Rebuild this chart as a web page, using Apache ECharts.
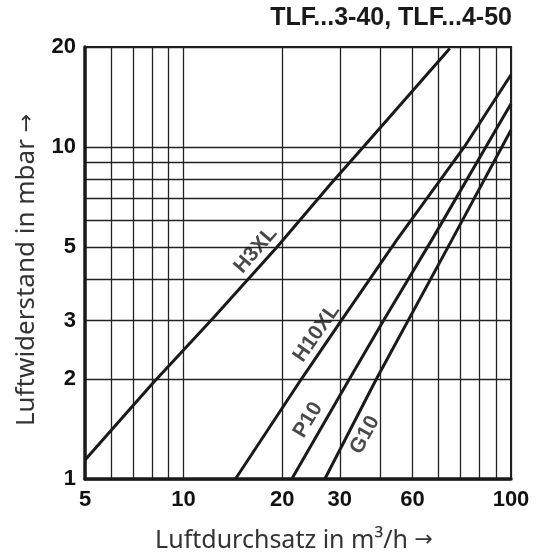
<!DOCTYPE html>
<html><head><meta charset="utf-8">
<script src="https://cdn.jsdelivr.net/npm/echarts@6/dist/echarts.min.js"></script>
<style>html,body{margin:0;padding:0;background:#fff}#c{width:537px;height:559px}</style>
</head><body><div id="c"></div>
<script>
const titleText = 'TLF...3-40, TLF...4-50';
const xName = 'Luftdurchsatz in m³/h {a|→}';
const yName = 'Luftwiderstand in mbar {a|→}';
const xGridValues = [5,6,7,8,9,10,20,30,40,50,60,70,80,90,100];
const yGridValues = [1,2,3,4,5,6,7,8,9,10,20];
const xTickValues = [5,10,20,30,50,100];
const xTickLabels = ['5','10','20','30','60','100'];
const yTickValues = [1,2,3,5,10,20];
const yTickLabels = ['1','2','3','5','10','20'];
const seriesNames = ['H3XL','H10XL','P10','G10'];
const h3xl = [[5,1.14],[8,1.93],[12.3,3.05],[19.3,5],[28,7.69],[35.4,10],[65,19.8]];
const h10xl = [[14.4,1],[22.9,2],[30.3,3],[44.8,5.25],[72,10],[100,16.5]];
const p10 = [[21.4,1],[32.1,2],[40.8,3],[57.3,5.25],[100,13.5]];
const g10 = [[27,1],[38.8,2],[66,5.25],[100,11.25]];
const labelAnchors = [[16.6,4.89],[25.5,2.75],[24.0,1.505],[35.8,1.357]];

const seriesData = [h3xl, h10xl, p10, g10];
const labelRot = [49, 55, 59, 61.5];
const sans = "'Liberation Sans',Arial,Helvetica,sans-serif";

function pick(values, labels) {
  return function (v) {
    let best = 0, bd = Infinity;
    values.forEach((t, i) => { const d = Math.abs(Math.log(v) - Math.log(t)); if (d < bd) { bd = d; best = i; } });
    return labels[best];
  };
}

const chart = echarts.init(document.getElementById('c'), null, {renderer: 'canvas'});
const series = seriesData.map((d, i) => ({
  name: seriesNames[i],
  type: 'line',
  data: d,
  showSymbol: false,
  symbol: 'none',
  silent: true,
  clip: true,
  z: 5,
  lineStyle: {color: '#1a1a1a', width: 3}
}));
series.push({
  type: 'scatter',
  symbolSize: 0,
  silent: true,
  z: 6,
  data: labelAnchors.map((p, i) => ({
    value: p,
    label: {
      show: true,
      position: 'inside',
      formatter: seriesNames[i],
      rotate: labelRot[i],
      fontFamily: sans,
      fontWeight: 'bold',
      fontSize: 21,
      color: '#1a1a1a',
      align: 'center',
      verticalAlign: 'middle'
    }
  }))
});

const arrowStyle = {fontFamily: "'DejaVu Sans',sans-serif", color: '#333', fontSize: 22};

chart.setOption({
  animation: false,
  backgroundColor: '#fff',
  title: {
    text: titleText,
    right: 20,
    top: 1,
    textStyle: {fontFamily: sans, fontWeight: 'bold', fontSize: 25, color: '#1a1a1a'}
  },
  grid: {left: 85, right: 26, top: 47, bottom: 80, show: true, borderColor: '#1a1a1a', borderWidth: 2, backgroundColor: 'transparent'},
  xAxis: {
    type: 'log', logBase: 10, min: 5, max: 100,
    name: xName, nameLocation: 'middle', nameGap: 49,
    nameTextStyle: {fontFamily: "'Noto Sans',sans-serif", fontSize: 25, color: '#333', padding: [0, 8, 0, 0], rich: {a: arrowStyle}},
    axisLine: {show: true, onZero: false, lineStyle: {color: '#1a1a1a', width: 3.5}},
    axisTick: {show: false, customValues: xGridValues},
    splitLine: {show: true, lineStyle: {color: '#222', width: 1.3}},
    axisLabel: {customValues: xTickValues, formatter: pick(xTickValues, xTickLabels), margin: 10,
      fontFamily: sans, fontWeight: 'bold', fontSize: 22, color: '#111', showMinLabel: true, showMaxLabel: true}
  },
  yAxis: {
    type: 'log', logBase: 10, min: 1, max: 20,
    name: yName, nameLocation: 'middle', nameGap: 45,
    nameTextStyle: {fontFamily: "'Noto Sans',sans-serif", fontSize: 26, color: '#333', padding: [0, 14, 0, 0], rich: {a: arrowStyle}},
    axisLine: {show: true, onZero: false, lineStyle: {color: '#1a1a1a', width: 3.5}},
    axisTick: {show: false, customValues: yGridValues},
    splitLine: {show: true, lineStyle: {color: '#222', width: 1.3}},
    axisLabel: {customValues: yTickValues, formatter: pick(yTickValues, yTickLabels), margin: 9,
      fontFamily: sans, fontWeight: 'bold', fontSize: 22, color: '#111', showMinLabel: true, showMaxLabel: true}
  },
  series: series
});
</script></body></html>
